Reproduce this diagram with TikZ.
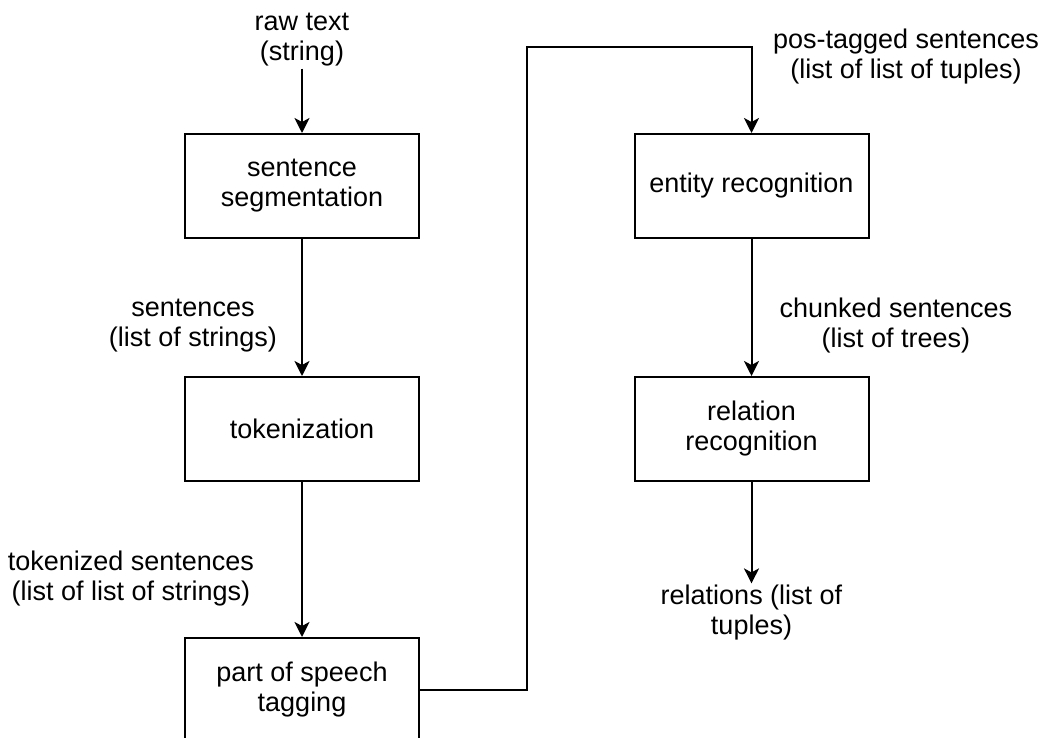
\documentclass[tikz,border=0pt]{standalone}
\usepackage{fontspec}
\setmainfont{Liberation Sans}
\usetikzlibrary{arrows.meta,positioning}

\begin{document}
\begin{tikzpicture}[> = {Stealth[length=15pt,width=15pt,inset=4pt]}, x=1pt, y=1pt, line width=2pt]
    \tikzset{
      blk/.style={draw, fill=white, minimum width=234pt, minimum height=104pt, align=center, inner sep=2pt, font=\fontsize{27}{30}\selectfont},
      lbl/.style={align=center, inner sep=1pt, font=\fontsize{27}{30}\selectfont},
    }
    \useasboundingbox (0,0) rectangle (1045,-738);
    \node [blk] (seg) at (302,-186) {sentence\\segmentation};
    \node [lbl] (raw) [above of=seg, node distance=146pt] {raw text\\(string)};
    \node [blk] (tok) [below of=seg, node distance=243pt] {tokenization};
    \node [blk] (pos) [below of=tok, node distance=261pt] {part of speech\\tagging};
    \node [blk] (ent) [right of=seg, node distance=449.5pt] {entity recognition};
    \node [blk] (rel) [below of=ent, node distance=243pt] {relation\\recognition};
    \node [lbl] (out) [below of=rel, node distance=184pt] {relations (list of\\tuples)};
    \node [lbl] (tagtxt) at (906,-57) {pos-tagged sentences\\(list of list of tuples)};
    \coordinate (bend) at (527,-47);
    \path[->] (raw) edge (seg);
    \path[->] (seg) edge node[lbl, pos=0.63, left=23pt] (sentxt) {sentences\\(list of strings)} (tok);
    \path[->] (tok) edge node[lbl, pos=0.624, left=46pt] (toktxt) {tokenized sentences\\(list of list of strings)} (pos);
    \draw[->] (pos) -| (bend) -| (ent);
    \path[->] (ent) edge node[lbl, pos=0.63, right=26pt] (chtxt) {chunked sentences\\(list of trees)} (rel);
    \path[->] (rel) edge (out);

  \end{tikzpicture}
\end{document}
